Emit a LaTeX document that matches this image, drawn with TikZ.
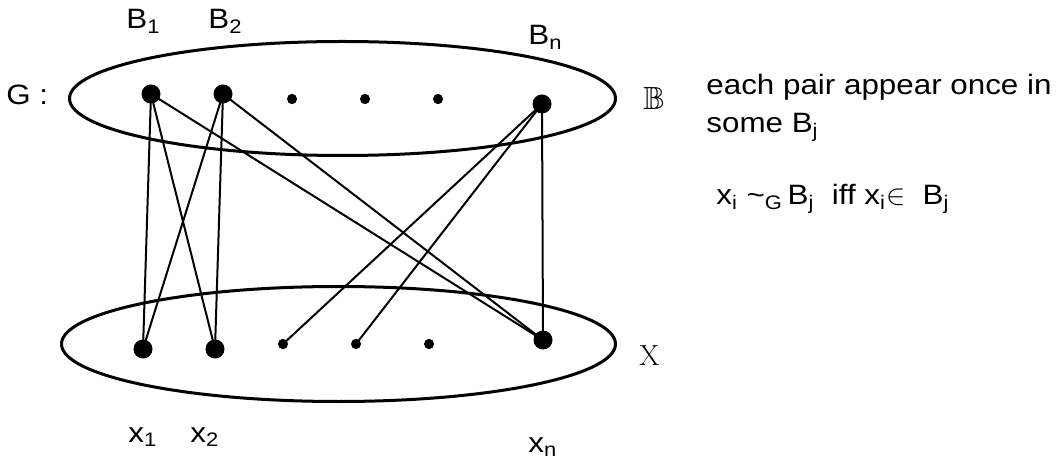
\documentclass[tikz,border=0pt]{standalone}
\usepackage{amssymb}
\usepackage{fontspec}
\setmainfont[FakeStretch=1.12]{Liberation Sans}
\newfontfamily\lmroman{Latin Modern Roman}
\usetikzlibrary{shapes.geometric}

\tikzset{
    bigdot/.style={ellipse, fill, inner sep=0pt, minimum width=9.5pt, minimum height=9.5pt},
    smalldot/.style={ellipse, fill, inner sep=0pt, minimum width=5pt, minimum height=5.2pt},
    setring/.style={ellipse, draw, line width=1.5pt, inner sep=0pt},
    lbl/.style={font=\fontsize{14}{17}\selectfont, inner sep=0pt, anchor=base west},
    link/.style={line width=1pt}
}

\begin{document}
\begin{tikzpicture}[x=0.5pt, y=-0.5pt]
    \useasboundingbox (0,0) rectangle (1064,459);

    % the two sets
    \node[setring, minimum width=273pt, minimum height=57pt] (bset) at (342.5,98.5) {};
    \node[setring, minimum width=277pt, minimum height=57.5pt] (xset) at (338.5,344) {};

    % blocks
    \node[bigdot] (b1) at (151,94) {};
    \node[bigdot] (b2) at (223,94) {};
    \node[smalldot] (bd1) at (292,99) {};
    \node[smalldot] (bd2) at (365,99) {};
    \node[smalldot] (bd3) at (438,99) {};
    \node[bigdot] (bn) at (542,104) {};

    % points
    \node[bigdot] (x1) at (143,349) {};
    \node[bigdot] (x2) at (215,349) {};
    \node[smalldot] (x3) at (283,344) {};
    \node[smalldot] (x4) at (356,344) {};
    \node[smalldot] (xd) at (429,344) {};
    \node[bigdot] (xn) at (543,340) {};

    % incidences
    \draw[link] (b1.center) -- (x1.center);
    \draw[link] (b1.center) -- (x2.center);
    \draw[link] (b1.center) -- (xn.center);
    \draw[link] (b2.center) -- (x1.center);
    \draw[link] (b2.center) -- (x2.center);
    \draw[link] (b2.center) -- (xn.center);
    \draw[link] (bn.center) -- (x3.center);
    \draw[link] (bn.center) -- (x4.center);
    \draw[link] (bn.center) -- (xn.center);

    % labels
    \node[lbl] (gl) at (6,105) {G :};
    \node[lbl] (lb1) at (126,29) {B\textsubscript{1}};
    \node[lbl] (lb2) at (208,29) {B\textsubscript{2}};
    \node[lbl] (lbn) at (528,45) {B\textsubscript{n}};
    \node[lbl] (lbb) at (643,110) {\fontsize{16}{17}\selectfont$\mathbb{B}$};
    \node[lbl] (lx1) at (128,442) {x\textsubscript{1}};
    \node[lbl] (lx2) at (190,442) {x\textsubscript{2}};
    \node[lbl] (lxn) at (528,452) {x\textsubscript{n}};
    \node[lbl] (lxx) at (639,365) {\lmroman\fontsize{14.5}{17}\selectfont X};

    % remarks
    \node[lbl] (note1) at (706,95) {each pair appear once in};
    \node[lbl] (note2) at (706,133) {some B\textsubscript{j}};
    \node[lbl] (rule) at (716,205)
        {x\textsubscript{i} \textasciitilde\textsubscript{G}\,B\textsubscript{j}\ \ iff x\textsubscript{i}$\in$\ \ B\textsubscript{j}};
\end{tikzpicture}
\end{document}
